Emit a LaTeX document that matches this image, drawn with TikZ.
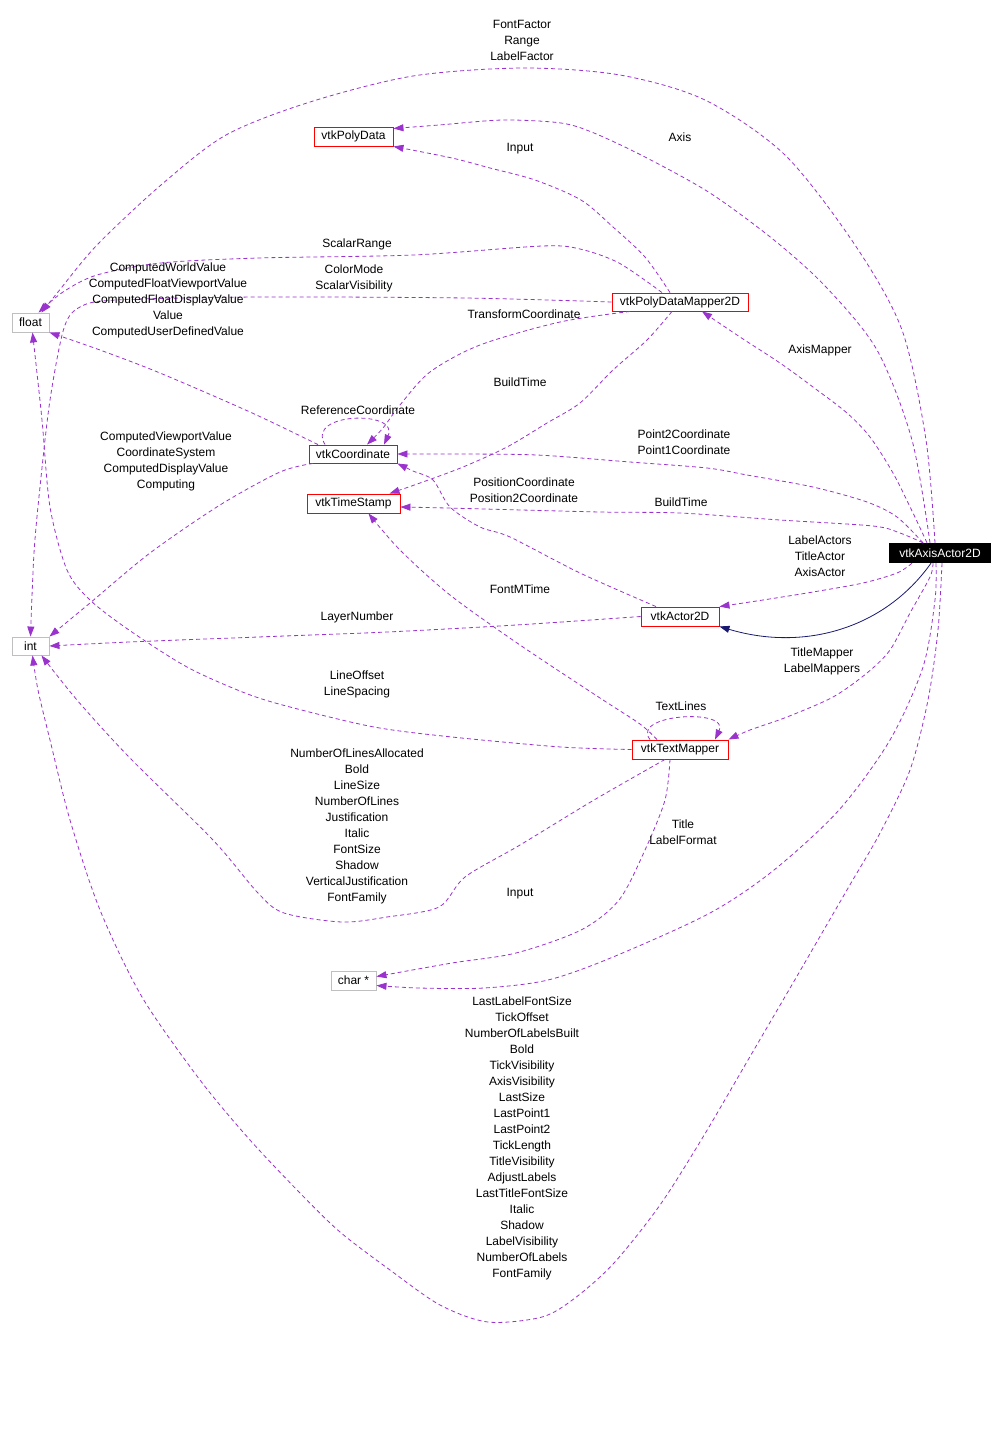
\documentclass[tikz,border=0pt]{standalone}
\usepackage{fontspec}
\setmainfont{Liberation Sans}
\usetikzlibrary{arrows.meta}

\definecolor{usecol}{HTML}{9A32CD}
\definecolor{inhcol}{HTML}{191970}
\definecolor{extcol}{HTML}{BFBFBF}

\begin{document}
\begin{tikzpicture}[x=1pt,y=-1pt,>={Triangle[length=10pt,width=7pt]},
  font=\fontsize{12}{16}\selectfont,
  cls/.style={draw=red,line width=0.9pt,fill=white,minimum height=19pt,inner sep=0pt},
  ext/.style={draw=extcol,line width=0.9pt,fill=white,minimum height=19pt,inner sep=0pt},
  cur/.style={fill=black,text=white,minimum height=20pt,inner sep=0pt},
  use/.style={->,usecol,line width=0.8pt,dash pattern=on 4pt off 3pt},
  inh/.style={->,inhcol,line width=0.8pt},
  lbl/.style={align=center,inner sep=0pt}]
  \useasboundingbox (0,0) rectangle (1005,1444);

  % classes
  \node[cur,minimum width=102pt] (axis) at (940,553) {vtkAxisActor2D};
  \node[cls,minimum width=79pt] (pdata) at (353.5,136.5) {vtkPolyData};
  \node[ext,minimum width=37pt] (flt) at (30.5,322.5) {float};
  \node[cls,minimum width=136pt,minimum height=18pt] (mapper) at (680,302) {vtkPolyDataMapper2D};
  \node[cls,minimum width=88pt,minimum height=18pt] (coord) at (353,454) {vtkCoordinate};
  \node[cls,minimum width=93pt] (tstamp) at (353.5,503.5) {vtkTimeStamp};
  \node[cls,minimum width=78pt] (actor) at (680,616.5) {vtkActor2D};
  \node[ext,minimum width=37pt,minimum height=18pt] (ival) at (30.5,646) {int};
  \node[cls,minimum width=96pt] (tmapper) at (680,749.5) {vtkTextMapper};
  \node[ext,minimum width=45pt] (chr) at (353.5,980.5) {char *};

  % members
  \draw[use] plot[smooth] coordinates {([xshift=-5pt]axis.north) (926,440) (902,330) (855,245) (785,155) (705,100) (620,75) (523,68) (413,76) (310,102) (226,135) (161,185) (97,245) (58,292) ([xshift=11pt]flt.north)};
  \draw[use] plot[smooth] coordinates {([xshift=-10pt]axis.north) (912,440) (877,350) (826,287) (774,240) (710,193) (645,157) (594,133) (561,123) (503,120) (439,125) ([yshift=8pt]pdata.east)};
  \draw[use] plot[smooth] coordinates {([xshift=-10pt]mapper.north) (645,257) (613,227) (581,200) (535,180) (490,168) (452,158) (pdata.south east)};
  \draw[use] plot[smooth] coordinates {([xshift=-18pt]mapper.north) (619,263) (580,249) (542,246) (413,255) (258,258) (161,263) (97,275) (63,292) ([xshift=8pt]flt.north)};
  \draw[use] plot[smooth] coordinates {(mapper.west) (465,298) (258,297) (116,300) (80,307) (64,328) (50,400) (40,487) (34,553) (ival.north)};
  \draw[use] plot[smooth] coordinates {([xshift=-35pt]coord.north) (250,412) (160,373) (100,350) (flt.south east)};
  \draw[use] plot[smooth] coordinates {([xshift=-40pt]coord.south) (280,472) (220,505) (150,553) (90,603) (ival.north east)};
  \draw[use] plot[smooth] coordinates {([xshift=-50pt]mapper.south) (560,322) (480,345) (430,372) (400,405) (383,428) ([xshift=14pt]coord.north)};
  \draw[use] ([xshift=-28pt]coord.north) .. controls (305,412) and (400,410) .. ([xshift=31pt]coord.north);
  \draw[use] plot[smooth] coordinates {([xshift=-8pt]mapper.south) (647,340) (613,370) (580,403) (547,423) (507,447) (463,467) (420,483) ([xshift=36pt]tstamp.north)};
  \draw[use] plot[smooth] coordinates {([xshift=-24pt]actor.north) (580,573) (510,537) (480,527) (450,507) (433,480) (413,471) (coord.south east)};
  \draw[use] plot[smooth] coordinates {([xshift=-13pt]axis.north) (913,513) (893,473) (870,437) (847,413) (813,387) (780,363) (740,337) ([xshift=22pt]mapper.south)};
  \draw[use] plot[smooth] coordinates {([xshift=-17pt]axis.north) (897,517) (867,502) (813,487) (747,475) (707,468) (630,462) (537,455) (450,454) (coord.east)};
  \draw[use] plot[smooth] coordinates {([xshift=-17pt]axis.north) (900,533) (873,526) (780,520) (680,513) (600,512) (447,508) ([yshift=-3.5pt]tstamp.east)};
  \draw[use] plot[smooth] coordinates {([xshift=-28pt]axis.south) (897,573) (863,583) (813,592) (763,600) (actor.north east)};
  \draw[inh] ([xshift=-9pt]axis.south) .. controls (885,628) and (805,652) .. (actor.south east);
  \draw[use] plot[smooth] coordinates {([xshift=-7pt]axis.south) (930,577) (910,613) (890,650) (867,673) (833,697) (787,717) (750,730) (tmapper.north east)};
  \draw[use] ([xshift=-30pt]tmapper.north) .. controls (630,714) and (730,708) .. ([xshift=35pt]tmapper.north);
  \draw[use] plot[smooth] coordinates {([xshift=-23pt]tmapper.north) (640,724) (600,698) (520,645) (450,595) (400,550) ([xshift=15pt]tstamp.south)};
  \draw[use] plot[smooth] coordinates {(tmapper.west) (561,747) (452,737) (374,727) (290,707) (245,693) (187,667) (129,630) (90,600) (67,570) (50,507) (42,420) ([xshift=2pt]flt.south)};
  \draw[use] plot[smooth] coordinates {(actor.west) (516,625) (387,632) (258,637) (129,642) (ival.east)};
  \draw[use] plot[smooth] coordinates {([xshift=-15pt]tmapper.south) (594,800) (520,845) (465,877) (439,907) (387,917) (342,922) (284,913) (258,893) (213,840) (129,757) (77,700) ([xshift=11pt]ival.south)};
  \draw[use] plot[smooth] coordinates {([xshift=-10pt]tmapper.south) (665,800) (645,850) (619,900) (581,930) (516,953) (452,963) ([yshift=4pt]chr.east)};
  \draw[use] plot[smooth] coordinates {([xshift=-4pt]axis.south) (935,600) (923,667) (890,740) (839,810) (774,870) (710,913) (613,957) (548,980) (484,988) (419,988) ([yshift=-5pt]chr.east)};
  \draw[use] plot[smooth] coordinates {([xshift=2pt]axis.south) (938,630) (928,700) (910,770) (880,833) (851,883) (822,933) (793,983) (748,1060) (703,1137) (660,1205) (614,1263) (575,1298) (542,1317) (488,1322) (440,1305) (390,1270) (340,1232) (300,1193) (250,1140) (200,1080) (142,997) (100,910) (70,820) (50,740) (38,690) ([xshift=2pt]ival.south)};

  % labels
  \node[lbl] (lfont) at (522,40) {FontFactor\\Range\\LabelFactor};
  \node[lbl] (laxis) at (680,137) {Axis};
  \node[lbl] (linput) at (520,149) {Input};
  \node[lbl] (lsrange) at (357,244) {ScalarRange};
  \node[lbl] (lworld) at (168,300) {ComputedWorldValue\\ComputedFloatViewportValue\\ComputedFloatDisplayValue\\Value\\ComputedUserDefinedValue};
  \node[lbl] (lcolor) at (354,278) {ColorMode\\ScalarVisibility};
  \node[lbl] (ltrans) at (524,314) {TransformCoordinate};
  \node[lbl] (lamap) at (820,350) {AxisMapper};
  \node[lbl] (lbuild) at (520,382) {BuildTime};
  \node[lbl] (lref) at (358,410) {ReferenceCoordinate};
  \node[lbl] (lpoint) at (684,442) {Point2Coordinate\\Point1Coordinate};
  \node[lbl] (lview) at (166,461) {ComputedViewportValue\\CoordinateSystem\\ComputedDisplayValue\\Computing};
  \node[lbl] (lpos) at (524,490) {PositionCoordinate\\Position2Coordinate};
  \node[lbl] (lbuildb) at (681,502) {BuildTime};
  \node[lbl] (lactors) at (820,556) {LabelActors\\TitleActor\\AxisActor};
  \node[lbl] (lmtime) at (520,589) {FontMTime};
  \node[lbl] (llayer) at (357,617) {LayerNumber};
  \node[lbl] (lmappers) at (822,661) {TitleMapper\\LabelMappers};
  \node[lbl] (loffset) at (357,684) {LineOffset\\LineSpacing};
  \node[lbl] (llines) at (681,706) {TextLines};
  \node[lbl] (lnum) at (357,826) {NumberOfLinesAllocated\\Bold\\LineSize\\NumberOfLines\\Justification\\Italic\\FontSize\\Shadow\\VerticalJustification\\FontFamily};
  \node[lbl] (ltitle) at (683,832) {Title\\LabelFormat};
  \node[lbl] (linputb) at (520,894) {Input};
  \node[lbl] (llast) at (522,1138) {LastLabelFontSize\\TickOffset\\NumberOfLabelsBuilt\\Bold\\TickVisibility\\AxisVisibility\\LastSize\\LastPoint1\\LastPoint2\\TickLength\\TitleVisibility\\AdjustLabels\\LastTitleFontSize\\Italic\\Shadow\\LabelVisibility\\NumberOfLabels\\FontFamily};
\end{tikzpicture}
\end{document}
